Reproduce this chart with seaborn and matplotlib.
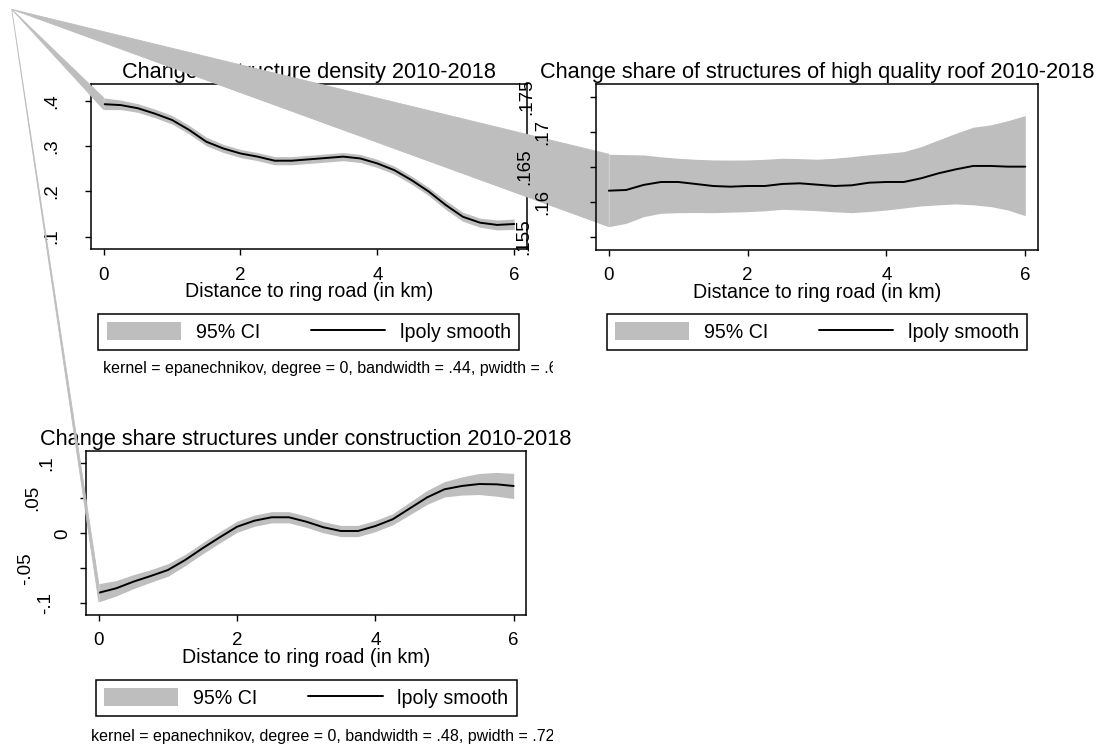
import matplotlib
matplotlib.use("Agg")
import matplotlib.pyplot as plt
import matplotlib.transforms as mtrans
from matplotlib.patches import Patch, Polygon
from matplotlib.lines import Line2D
import seaborn as sns

# distance grid (km)
dist = [0, 0.25, 0.5, 0.75, 1, 1.25, 1.5, 1.75, 2, 2.25, 2.5, 2.75, 3,
        3.25, 3.5, 3.75, 4, 4.25, 4.5, 4.75, 5, 5.25, 5.5, 5.75, 6]

# panel 1: change in structure density
density = [0.393, 0.391, 0.384, 0.372, 0.358, 0.336, 0.310, 0.295, 0.284, 0.277, 0.268, 0.268, 0.271,
           0.274, 0.277, 0.273, 0.262, 0.247, 0.225, 0.200, 0.170, 0.144, 0.131, 0.126, 0.128]
density_hi = [0.407, 0.402, 0.394, 0.382, 0.368, 0.346, 0.320, 0.304, 0.293, 0.286, 0.277, 0.277, 0.280,
              0.283, 0.286, 0.282, 0.271, 0.256, 0.234, 0.209, 0.180, 0.154, 0.141, 0.137, 0.139]
density_lo = [0.381, 0.381, 0.375, 0.363, 0.349, 0.327, 0.301, 0.286, 0.275, 0.268, 0.259, 0.259, 0.262,
              0.265, 0.268, 0.264, 0.253, 0.238, 0.216, 0.191, 0.160, 0.134, 0.121, 0.115, 0.116]

# panel 2: change share of high quality roofs
roof = [0.16157, 0.16167, 0.16239, 0.16281, 0.16281, 0.16253, 0.16224, 0.16214, 0.16224, 0.16224,
        0.16253, 0.16262, 0.16243, 0.16224, 0.16234, 0.16271, 0.16281, 0.16281, 0.16334, 0.16405,
        0.16462, 0.16510, 0.16510, 0.16500, 0.16500]
roof_hi = [0.16677, 0.16672, 0.16667, 0.16640, 0.16620, 0.16605, 0.16596, 0.16594, 0.16596, 0.16605,
           0.16620, 0.16615, 0.16606, 0.16620, 0.16643, 0.16670, 0.16691, 0.16714, 0.16786, 0.16881,
           0.16977, 0.17063, 0.17096, 0.17157, 0.17229]
roof_lo = [0.15643, 0.15691, 0.15786, 0.15834, 0.15843, 0.15845, 0.15843, 0.15850, 0.15857, 0.15870,
           0.15891, 0.15882, 0.15871, 0.15855, 0.15843, 0.15860, 0.15881, 0.15910, 0.15939, 0.15955,
           0.15967, 0.15955, 0.15930, 0.15880, 0.15800]

# panel 3: change share under construction
constr = [-0.0849, -0.0786, -0.0691, -0.0610, -0.0524, -0.0381, -0.0214, -0.0057, 0.0094, 0.0180,
          0.0229, 0.0229, 0.0166, 0.0086, 0.0033, 0.0033, 0.0104, 0.0200, 0.0357, 0.0514,
          0.0629, 0.0676, 0.0704, 0.0700, 0.0676]
constr_hi = [-0.0719, -0.0676, -0.0591, -0.0520, -0.0434, -0.0301, -0.0134, 0.0023, 0.0174, 0.0260,
             0.0309, 0.0309, 0.0246, 0.0166, 0.0113, 0.0113, 0.0184, 0.0280, 0.0447, 0.0614,
             0.0739, 0.0806, 0.0854, 0.0870, 0.0856]
constr_lo = [-0.0979, -0.0896, -0.0791, -0.0700, -0.0614, -0.0461, -0.0294, -0.0137, 0.0014, 0.0100,
             0.0149, 0.0149, 0.0086, 0.0006, -0.0047, -0.0047, 0.0024, 0.0120, 0.0267, 0.0414,
             0.0519, 0.0546, 0.0554, 0.0530, 0.0496]

titles = ["Change in structure density 2010-2018",
          "Change share of structures of high quality roof 2010-2018",
          "Change share structures under construction 2010-2018"]
notes = ["kernel = epanechnikov, degree = 0, bandwidth = .44, pwidth = .66",
         "kernel = epanechnikov, degree = 0, bandwidth = .95, pwidth = 1.42",
         "kernel = epanechnikov, degree = 0, bandwidth = .48, pwidth = .72"]
xticks = [0, 2, 4, 6]
yticks1 = [0.1, 0.2, 0.3, 0.4]
ylabels1 = [".1", ".2", ".3", ".4"]
yticks2 = [0.155, 0.16, 0.165, 0.17, 0.175]
ylabels2 = [".155", ".16", ".165", ".17", ".175"]
yticks3 = [-0.1, -0.05, 0, 0.05, 0.1]
ylabels3 = ["-.1", "-.05", "0", ".05", ".1"]

sns.set_theme(style="white")
plt.rcParams["font.family"] = ["Liberation Sans", "DejaVu Sans"]
plt.rcParams["text.color"] = "black"
plt.rcParams["axes.labelcolor"] = "black"
plt.rcParams["xtick.color"] = "black"
plt.rcParams["ytick.color"] = "black"

W, H = 1106, 746
fig = plt.figure(figsize=(W / 100, H / 100), dpi=100)
CI = "#bebebe"
TICK_FS = 13.5


def rect(l, t, r, b):
    return [l / W, 1 - b / H, (r - l) / W, (b - t) / H]


ax1 = fig.add_axes(rect(91, 84, 526.7, 249.3), zorder=0)
ax2 = fig.add_axes(rect(596, 84, 1038, 250), zorder=2)
ax3 = fig.add_axes(rect(86, 450.7, 526.3, 615), zorder=0)

panels = [
    (ax1, density, density_lo, density_hi, (0.0721, 0.4376), yticks1, ylabels1, [-39.3] * 4),
    (ax2, roof, roof_lo, roof_hi, (0.1531, 0.1768), yticks2, ylabels2, [-72.2, -53.5, -71.7, -53.5, -69.3]),
    (ax3, constr, constr_lo, constr_hi, (-0.1167, 0.118), yticks3, ylabels3, [-40.2, -60.2, -23.5, -53.5, -39.3]),
]

for i, (ax, y, lo, hi, ylim, yt, yl, offs) in enumerate(panels):
    ax.set_facecolor("none")
    ax.fill_between(dist, lo, hi, color=CI, lw=0)
    sns.lineplot(x=dist, y=y, ax=ax, color="black", lw=1.4)
    ax.set_xlim(-0.185, 6.183)
    ax.set_ylim(*ylim)
    ax.set_xticks(xticks)
    ax.set_xticklabels([str(v) for v in xticks])
    ax.set_yticks(yt)
    ax.tick_params(axis="both", direction="out", length=4, width=1, color="black",
                   labelsize=TICK_FS, pad=8.5, bottom=True, left=True)
    ax.tick_params(axis="y", labelleft=False)
    for s in ax.spines.values():
        s.set_color("black")
        s.set_linewidth(1.1)
    ax.set_title(titles[i], fontsize=15.7, pad=4.3, color="black")
    ax.set_xlabel("Distance to ring road (in km)", fontsize=14.1, labelpad=-1)
    ax.set_ylabel("")
    for v, s, dx in zip(yt, yl, offs):
        tr = mtrans.offset_copy(ax.get_yaxis_transform(), fig=fig, x=dx, y=0, units="dots")
        ax.text(0, v, s, transform=tr, rotation=90, ha="center", va="center",
                fontsize=TICK_FS, clip_on=False)

# legends under each panel
handles = [Patch(facecolor=CI, edgecolor="none"), Line2D([], [], color="black", lw=1.4)]
legend_spots = [(ax1, 314), (ax2, 314), (ax3, 680)]
for ax, top in legend_spots:
    bb = ax.get_position()
    cx = (bb.x0 + bb.x1) / 2
    leg = ax.legend(handles, ["95% CI", "lpoly smooth"], loc="upper center",
                    bbox_to_anchor=(cx, 1 - top / H), bbox_transform=fig.transFigure,
                    ncol=2, fontsize=14.1, frameon=True, fancybox=False, framealpha=1,
                    edgecolor="black", borderpad=0.42, handlelength=3.8, handleheight=1.05,
                    handletextpad=0.75, columnspacing=2.6, borderaxespad=0)
    leg.get_frame().set_linewidth(1.1)

# kernel notes
note_pos = [(103, 369), (600, 369), (91, 737)]
for (x, y), txt in zip(note_pos, notes):
    t = fig.text(x / W, 1 - y / H, txt, fontsize=11.5, ha="left", va="center")
    t.set_clip_box(mtrans.TransformedBbox(mtrans.Bbox([[0, 0], [0.5, 1]]), fig.transFigure))
    t.set_clip_on(True)

# the CI polygons in the original export start from the image corner
apex = fig.transFigure.transform((11.7 / W, 1 - 9.3 / H))
for ax, y, lo, hi, *_ in panels:
    p_hi = ax.transData.transform((dist[0], hi[0]))
    p_lo = ax.transData.transform((dist[0], lo[0]))
    poly = Polygon([apex, p_hi, p_lo], closed=True, transform=mtrans.IdentityTransform(),
                   facecolor=CI, edgecolor=CI, lw=0.6, zorder=1)
    fig.add_artist(poly)

fig.savefig("out.png", dpi=100, facecolor="white")
